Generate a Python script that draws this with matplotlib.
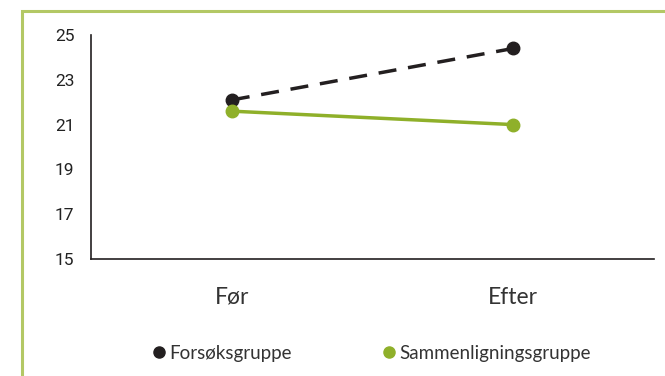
import matplotlib.pyplot as plt
from matplotlib.lines import Line2D
from matplotlib.patches import Rectangle

categories = ["Før", "Efter"]
forsok = [22.1, 24.4]
sammen = [21.6, 21.0]
yticks = [15, 17, 19, 21, 23, 25]

black = "#231f20"
green = "#8fb02a"
frame = "#b3c865"

fig = plt.figure(figsize=(6.65, 3.76), dpi=100)
W, H = 665, 376
ax = fig.add_axes([91 / W, 1 - 259 / H, (654 - 91) / W, (259 - 35) / H])

x = range(len(categories))
ax.plot(x, forsok, color=black, lw=2.5, ls=(0, (5.2, 3.4)), marker="o", ms=9,
        label="Forsøksgruppe")
ax.plot(x, sammen, color=green, lw=2.5, marker="o", ms=9,
        label="Sammenligningsgruppe")

ax.set_xlim(-0.5, 1.5)
ax.set_ylim(15, 25)
ax.set_yticks(yticks)
ax.set_xticks(list(x))
ax.set_xticklabels(categories, fontsize=16.5, family="Lato", color="#333333")
for t in ax.get_yticklabels():
    t.set_fontsize(12.5)
    t.set_family("Roboto")
    t.set_color("#222222")
ax.tick_params(axis="both", length=0)
ax.tick_params(axis="y", pad=12)
ax.tick_params(axis="x", pad=20)
for s in ["top", "right"]:
    ax.spines[s].set_visible(False)
for s in ["left", "bottom"]:
    ax.spines[s].set_color(black)
    ax.spines[s].set_linewidth(1.2)

handles = [Line2D([], [], ls="", marker="o", color=black, ms=8),
           Line2D([], [], ls="", marker="o", color=green, ms=8)]
leg = fig.legend(handles, ["Forsøksgruppe", "Sammenligningsgruppe"], ncol=2,
                 loc="center", bbox_to_anchor=(370 / W, 1 - 353 / H),
                 frameon=False, handletextpad=0.05, columnspacing=4.7,
                 handlelength=1.0, prop={"family": "Lato", "size": 13.5})
for t in leg.get_texts():
    t.set_color("#333333")

fig.patches.append(Rectangle((21.5 / W, -0.1), 1.2, 1 - 10.5 / H + 0.1,
                             transform=fig.transFigure, fill=False,
                             edgecolor=frame, lw=2.2))

fig.savefig("out.png", dpi=100)
